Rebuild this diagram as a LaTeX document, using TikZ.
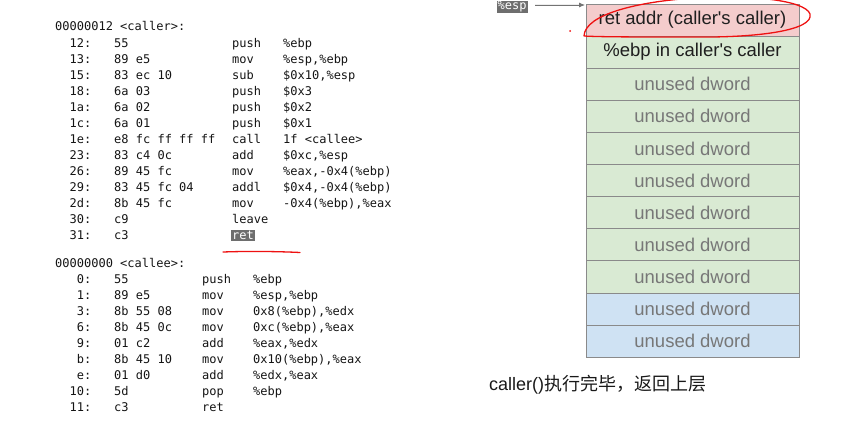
\documentclass[tikz,border=0pt]{standalone}
\usepackage{fontspec}
\usetikzlibrary{arrows.meta}
\setmainfont{Liberation Sans}
\newfontfamily\plainsans{Liberation Sans}
\newfontfamily\codefont{DejaVu Sans Mono}
\newfontfamily\cjkfont{Noto Sans CJK SC}
\definecolor{redfill}{HTML}{F4CCCC}
\definecolor{greenfill}{HTML}{D9EAD3}
\definecolor{bluefill}{HTML}{CFE2F3}
\definecolor{cellborder}{HTML}{8A8A8A}
\definecolor{unusedtext}{HTML}{777777}
\definecolor{hlgray}{HTML}{6E6E6E}
\definecolor{markred}{HTML}{EE1111}
% #1 name, #2 baseline y, #3 mnemonic x, #4 operand x, #5 addr, #6 bytes, #7 mnemonic, #8 operands
\newcommand\asmrow[8]{%
  \node[codeaddr] (#1a) at (91.6,#2) {#5};
  \node[code] (#1b) at (114,#2) {#6};
  \node[code] (#1m) at (#3,#2) {#7};
  \node[code] (#1o) at (#4,#2) {#8};
}
\begin{document}
\begin{tikzpicture}[x=1pt,y=-1pt,
  code/.style={inner sep=0pt,anchor=base west,font=\codefont\fontsize{12}{14}\selectfont,text=black!92},
  codeaddr/.style={code,anchor=base east},
  cell/.style={draw=cellborder,line width=0.8pt,minimum width=213pt,minimum height=32.1pt,inner sep=0pt,font=\plainsans\fontsize{18.5}{20}\selectfont},
  redcell/.style={cell,fill=redfill,text=black!88},
  greencell/.style={cell,fill=greenfill,text=black!88},
  unusedg/.style={cell,fill=greenfill,text=unusedtext},
  unusedb/.style={cell,fill=bluefill,text=unusedtext},
  hl/.style={code,fill=hlgray,text=white,inner sep=1pt},
  redmark/.style={draw=markred,line width=1.3pt,line cap=round}
]
\useasboundingbox (0,0) rectangle (853,422);

% ---------- caller listing ----------
\node[code] (hcaller) at (55,31) {00000012 <caller>:};
\asmrow{c0}{47.5}{232}{283}{12:}{55}{push}{\%ebp}
\asmrow{c1}{63.5}{232}{283}{13:}{89 e5}{mov}{\%esp,\%ebp}
\asmrow{c2}{79.5}{232}{283}{15:}{83 ec 10}{sub}{\$0x10,\%esp}
\asmrow{c3}{95.5}{232}{283}{18:}{6a 03}{push}{\$0x3}
\asmrow{c4}{111.5}{232}{283}{1a:}{6a 02}{push}{\$0x2}
\asmrow{c5}{127.5}{232}{283}{1c:}{6a 01}{push}{\$0x1}
\asmrow{c6}{143.5}{232}{283}{1e:}{e8 fc ff ff ff}{call}{1f <callee>}
\asmrow{c7}{159.5}{232}{283}{23:}{83 c4 0c}{add}{\$0xc,\%esp}
\asmrow{c8}{175.5}{232}{283}{26:}{89 45 fc}{mov}{\%eax,-0x4(\%ebp)}
\asmrow{c9}{191.5}{232}{283}{29:}{83 45 fc 04}{addl}{\$0x4,-0x4(\%ebp)}
\asmrow{c10}{207.5}{232}{283}{2d:}{8b 45 fc}{mov}{-0x4(\%ebp),\%eax}
\node[codeaddr] (c11a) at (91.6,223.5) {30:};
\node[code] (c11b) at (114,223.5) {c9};
\node[code] (c11m) at (232,223.5) {leave};
\node[codeaddr] (c12a) at (91.6,239.5) {31:};
\node[code] (c12b) at (114,239.5) {c3};
\node[hl] (c12m) at (231,239.5) {ret};

% red underline under ret
\coordinate (ulA) at (223,252);
\coordinate (ulB) at (300,252.5);
\draw[redmark] (ulA) .. controls (250,251) and (280,251.5) .. (ulB);

% ---------- callee listing ----------
\node[code] (hcallee) at (55,267) {00000000 <callee>:};
\asmrow{e0}{283}{202}{253}{0:}{55}{push}{\%ebp}
\asmrow{e1}{299}{202}{253}{1:}{89 e5}{mov}{\%esp,\%ebp}
\asmrow{e2}{315}{202}{253}{3:}{8b 55 08}{mov}{0x8(\%ebp),\%edx}
\asmrow{e3}{331}{202}{253}{6:}{8b 45 0c}{mov}{0xc(\%ebp),\%eax}
\asmrow{e4}{347}{202}{253}{9:}{01 c2}{add}{\%eax,\%edx}
\asmrow{e5}{363}{202}{253}{b:}{8b 45 10}{mov}{0x10(\%ebp),\%eax}
\asmrow{e6}{379}{202}{253}{e:}{01 d0}{add}{\%edx,\%eax}
\asmrow{e7}{395}{202}{253}{10:}{5d}{pop}{\%ebp}
\node[codeaddr] (e8a) at (91.6,411) {11:};
\node[code] (e8b) at (114,411) {c3};
\node[code] (e8m) at (202,411) {ret};

% ---------- stack ----------
\node[redcell] (s0) at (692.5,20.05) {ret addr (caller's caller)};
\node[greencell] (s1) at (692.5,52.15) {\%ebp in caller's caller};
\foreach \i in {2,...,8} {
  \node[unusedg] (s\i) at (692.5,4+32.1*\i+16.05) {unused dword};
}
\foreach \i in {9,10} {
  \node[unusedb] (s\i) at (692.5,4+32.1*\i+16.05) {unused dword};
}

% %esp pointer
\node[hl] (esp) at (496.5,10) {\%esp};
\coordinate (espStart) at (535,5);
\coordinate (espTip) at (585,5);
\draw[-{Latex[length=6pt,width=5pt]},draw=black!55,fill=black!55,line width=0.8pt] (espStart) -- (espTip);

% red hand-drawn ellipse and dot
\draw[redmark] (584,36) .. controls (586,-8) and (800,-14) .. (810,14)
  .. controls (814,30) and (760,38) .. (690,37) .. controls (640,37) and (600,37) .. (584,36);
\fill[markred] (570,31) circle (1pt);

% caption
\node[anchor=west,inner sep=0pt,font=\plainsans\fontsize{18}{20}\selectfont,text=black!90] (cap) at (489,385)
  {caller()\cjkfont 执行完毕，返回上层};
\end{tikzpicture}
\end{document}
